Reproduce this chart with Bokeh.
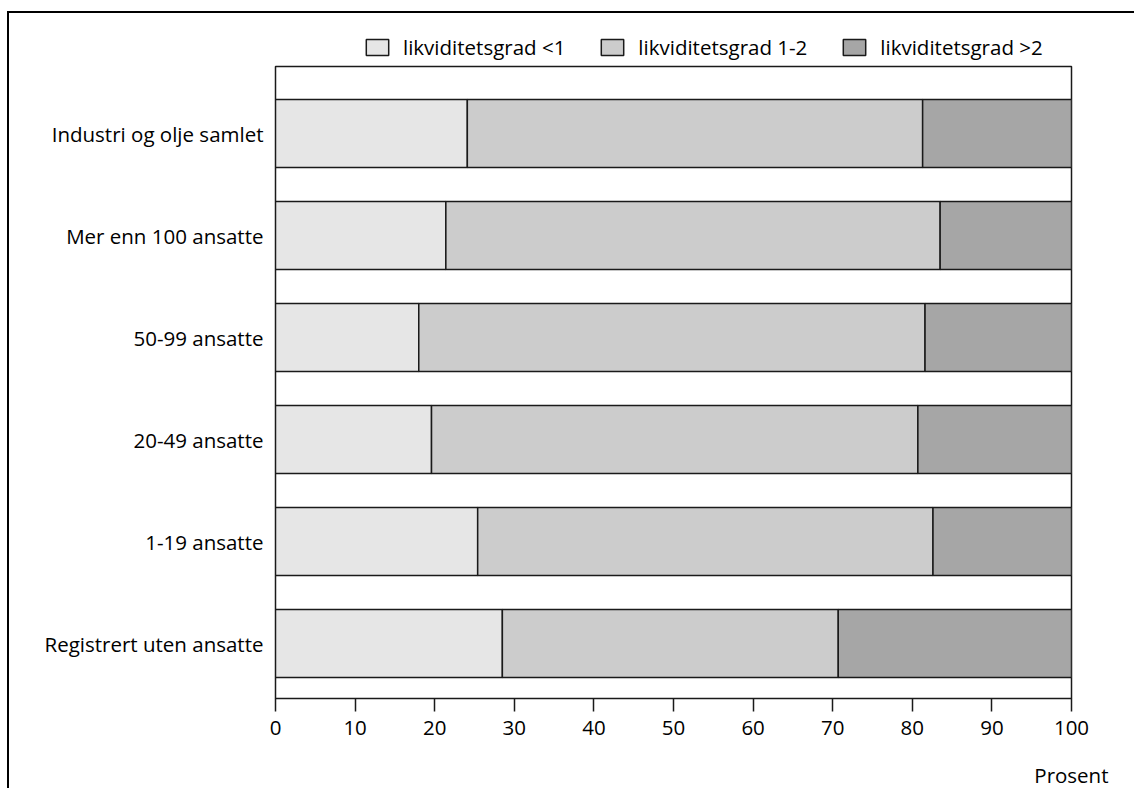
from bokeh.plotting import figure
from bokeh.models import ColumnDataSource, Range1d, FixedTicker, Title
from bokeh.layouts import column
from bokeh.embed import file_html
from bokeh.resources import INLINE

categories = ["Industri og olje samlet", "Mer enn 100 ansatte", "50-99 ansatte",
              "20-49 ansatte", "1-19 ansatte", "Registrert uten ansatte"]
under_1 = [24.1, 21.4, 18.0, 19.6, 25.4, 28.5]
between_1_2 = [57.2, 62.1, 63.6, 61.1, 57.2, 42.2]
over_2 = [18.7, 16.5, 18.4, 19.3, 17.4, 29.3]
series_names = ["likviditetsgrad <1", "likviditetsgrad 1-2", "likviditetsgrad >2"]
x_ticks = [0, 10, 20, 30, 40, 50, 60, 70, 80, 90, 100]
x_unit = "Prosent"

FONT = "Open Sans"
FS = "20.5px"
COLORS = ["#e6e6e6", "#cccccc", "#a6a6a6"]
EDGE = "#1a1a1a"
W = 1125
n = len(categories)
ypos = [n - 1 - i for i in range(n)]
NAN = float("nan")

# ---- legend strip (swatches only, no bars) ----
pl = figure(width=W, height=52, output_backend="svg", toolbar_location=None,
            x_range=Range1d(0, 1), y_range=Range1d(0, 1),
            x_axis_location=None, y_axis_location=None,
            min_border_left=0, min_border_right=0, min_border_top=0, min_border_bottom=0)
pl.grid.visible = False
pl.outline_line_color = None
for name, col in zip(series_names, COLORS):
    pl.hbar(y=[NAN], right=[NAN], height=0.5, fill_color=col, line_color=EDGE, line_width=1.5,
            legend_label=name)
lg = pl.legend[0]
lg.orientation = "horizontal"
lg.location = (88, 4)
lg.border_line_color = None
lg.background_fill_alpha = 0
lg.padding = 0
lg.margin = 0
lg.spacing = 33
lg.glyph_width = 28
lg.glyph_height = 20
lg.label_standoff = 12
lg.label_text_font = FONT
lg.label_text_font_size = FS
lg.label_text_color = "black"

# ---- main chart ----
source = ColumnDataSource(dict(y=ypos, s0=under_1, s1=between_1_2, s2=over_2))

p = figure(width=W, height=689, output_backend="svg", toolbar_location=None,
           x_range=Range1d(0, 100), y_range=Range1d(-0.539, n - 1 + 0.657),
           min_border_left=266, min_border_right=63, min_border_top=1, min_border_bottom=56)

p.hbar_stack(["s0", "s1", "s2"], y="y", height=0.667, source=source,
             color=COLORS, line_color=EDGE, line_width=1.5)

p.grid.visible = False
p.outline_line_color = EDGE
p.outline_line_width = 1.5

p.xaxis.ticker = FixedTicker(ticks=x_ticks)
p.xaxis.major_tick_in = 0
p.xaxis.major_tick_out = 13
p.xaxis.minor_tick_line_color = None
p.xaxis.axis_line_color = EDGE
p.xaxis.major_tick_line_color = EDGE
p.xaxis.major_tick_line_width = 1.5
p.xaxis.major_label_standoff = 9
p.xaxis.major_label_text_font = FONT
p.xaxis.major_label_text_font_size = FS
p.xaxis.major_label_text_color = "black"

p.yaxis.ticker = FixedTicker(ticks=ypos)
p.yaxis.major_label_overrides = {ypos[i]: categories[i] for i in range(n)}
p.yaxis.major_tick_in = 0
p.yaxis.major_tick_out = 0
p.yaxis.minor_tick_line_color = None
p.yaxis.major_tick_line_color = None
p.yaxis.axis_line_color = EDGE
p.yaxis.major_label_standoff = 12
p.yaxis.major_label_text_font = FONT
p.yaxis.major_label_text_font_size = FS
p.yaxis.major_label_text_color = "black"

# ---- unit strip ----
pu = figure(width=W, height=34, output_backend="svg", toolbar_location=None,
            x_range=Range1d(0, 1), y_range=Range1d(0, 1),
            x_axis_location=None, y_axis_location=None,
            min_border_left=0, min_border_right=0, min_border_top=0, min_border_bottom=0)
pu.grid.visible = False
pu.outline_line_color = None
pu.add_layout(Title(text=x_unit, align="right", offset=-37, standoff=0, vertical_align="bottom",
                    text_font=FONT, text_font_size=FS, text_font_style="normal",
                    text_color="black"), "below")

layout = column(pl, p, pu, spacing=0)
layout.styles = {"border-left": "2px solid black", "border-top": "2px solid black",
                 "margin-left": "7px", "margin-top": "11px"}

open("out.html", "w").write(file_html(layout, INLINE))
